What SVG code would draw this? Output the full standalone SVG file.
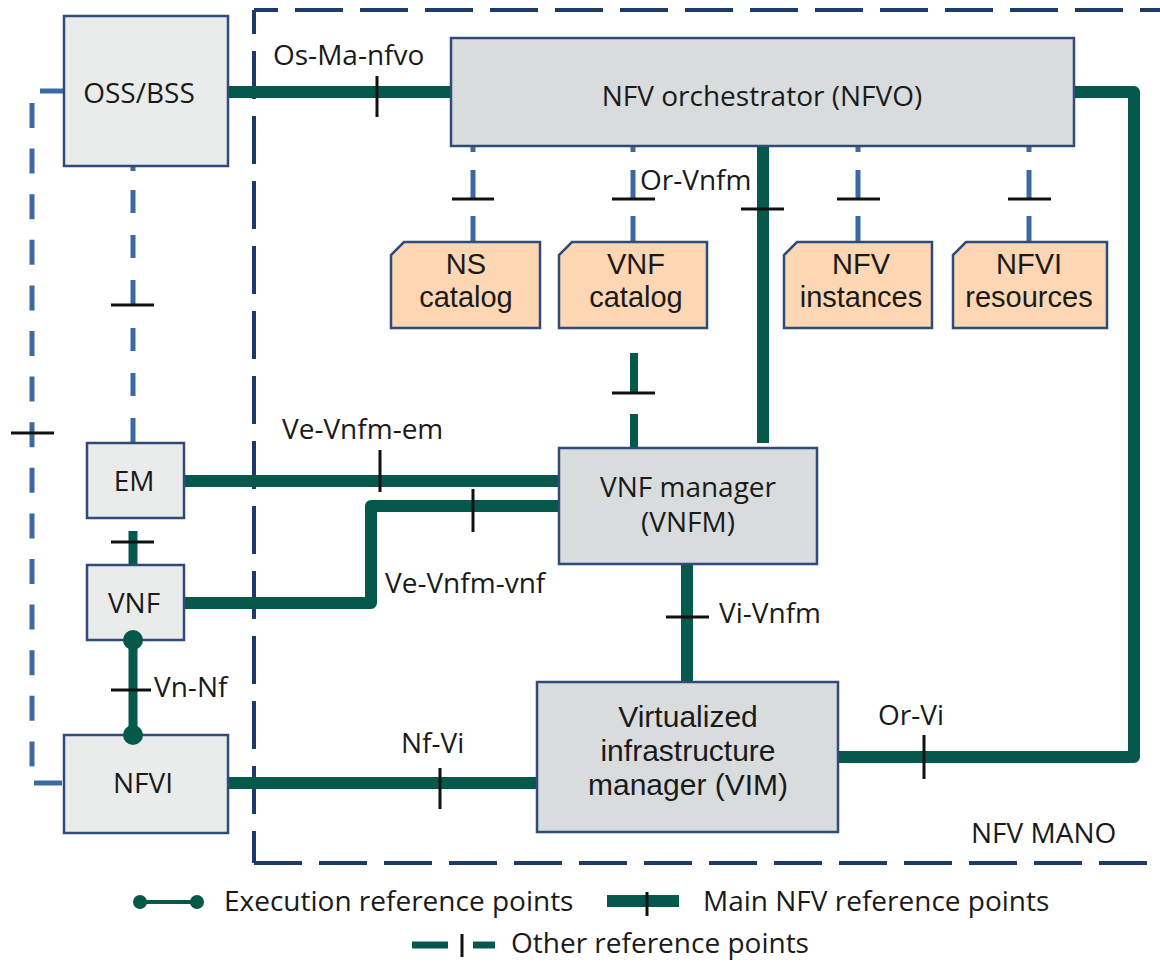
<svg xmlns="http://www.w3.org/2000/svg" width="1160" height="963" viewBox="0 0 1160 963">
<defs>
<style>
text { font-family: "Open Sans", "Liberation Sans", sans-serif; font-size: 28px; fill: #1a1a1a; }
.c { text-anchor: middle; }
.ct { font-family: "Liberation Sans", Arial, sans-serif; font-size: 29px; text-anchor: middle; }
.vt { font-family: "Liberation Sans", Arial, sans-serif; font-size: 30px; text-anchor: middle; }
.box { fill: #d8dcdd; stroke: #2f4b7a; stroke-width: 2.5; }
.lbox { fill: #e9eceb; stroke: #2f4b7a; stroke-width: 2.5; }
.cat { fill: #fdd6b3; stroke: #2f4b7a; stroke-width: 2.5; }
.main { stroke: #04594a; stroke-width: 12; fill: none; stroke-linejoin: round; }
.exec { stroke: #04594a; stroke-width: 9; fill: none; }
.dot { fill: #04594a; }
.other { stroke: #3d69a3; stroke-width: 5; fill: none; }
.og { stroke: #04594a; stroke-width: 8; fill: none; }
.tick { stroke: #111; stroke-width: 3; fill: none; }
.mano { stroke: #1d3b6a; stroke-width: 4; fill: none; stroke-dasharray: 48 17; }
</style>
</defs>
<rect width="1160" height="963" fill="#ffffff"/>

<g id="mano-boundary">
  <path class="mano" d="M254,10 H1160" stroke-dashoffset="24"/>
  <path class="mano" d="M254,10 V863" stroke-dashoffset="24"/>
  <path class="mano" d="M254,863 H1160"/>
  <text x="971" y="843">NFV MANO</text>
</g>

<g id="connectors">
  <!-- other (blue dashed) -->
  <path class="other" d="M64,91 H40"/>
  <path class="other" d="M32,103 V770" stroke-dasharray="25 20.6" stroke-width="4.5"/>
  <path class="other" d="M34,783 H62"/>
  <line class="tick" x1="11" y1="433" x2="54" y2="433"/>

  <path class="other" d="M133,166 V171 M133,190 V213 M133,235 V258 M133,280 V304 M133,328 V351 M133,373 V396 M133,418 V446"/>
  <line class="tick" x1="111" y1="305" x2="154" y2="305"/>

  <path class="other" d="M473,146 V152 M473,170 V198 M473,216 V242"/>
  <line class="tick" x1="452" y1="199" x2="494" y2="199"/>
  <path class="other" d="M633,146 V152 M633,170 V198 M633,216 V242"/>
  <line class="tick" x1="612" y1="199" x2="655" y2="199"/>
  <path class="other" d="M858,146 V152 M858,170 V198 M858,216 V242"/>
  <line class="tick" x1="837" y1="199" x2="880" y2="199"/>
  <path class="other" d="M1029,146 V152 M1029,170 V198 M1029,216 V242"/>
  <line class="tick" x1="1008" y1="199" x2="1051" y2="199"/>

  <!-- VNF catalog to VNFM (green dashed) -->
  <path class="og" d="M634,353 V392 M634,414 V448"/>
  <line class="tick" x1="612" y1="393" x2="655" y2="393"/>

  <!-- EM - VNF -->
  <path class="exec" d="M133,531 V566"/>
  <line class="tick" x1="111" y1="542" x2="154" y2="542"/>

  <!-- main reference points -->
  <path class="main" d="M228,92 H451"/>
  <line class="tick" x1="377" y1="76" x2="377" y2="117"/>
  <text x="273" y="65">Os-Ma-nfvo</text>

  <path class="main" d="M763,146 V443"/>
  <line class="tick" x1="741" y1="209" x2="784" y2="209"/>
  <text x="640" y="190">Or-Vnfm</text>

  <path class="main" d="M1074,92 H1134 V757 H838"/>
  <line class="tick" x1="924" y1="735" x2="924" y2="779"/>
  <text x="878" y="725">Or-Vi</text>

  <path class="main" d="M184,481 H559"/>
  <line class="tick" x1="380" y1="450" x2="380" y2="492"/>
  <text x="282" y="439">Ve-Vnfm-em</text>

  <path class="main" d="M184,603 H371 V506 H559"/>
  <line class="tick" x1="473" y1="489" x2="473" y2="532"/>
  <text x="385" y="593">Ve-Vnfm-vnf</text>

  <path class="main" d="M687,564 V682"/>
  <line class="tick" x1="666" y1="617" x2="709" y2="617"/>
  <text x="719" y="623">Vi-Vnfm</text>

  <path class="main" d="M228,783 H538"/>
  <line class="tick" x1="440" y1="768" x2="440" y2="809"/>
  <text x="401" y="753">Nf-Vi</text>

  <!-- execution reference point -->
  <path class="exec" d="M133,640 V735"/>
  <line class="tick" x1="111" y1="690" x2="151" y2="690"/>
  <text x="154" y="697">Vn-Nf</text>
</g>

<g id="oss-bss">
  <rect class="lbox" x="64" y="16" width="164" height="150"/>
  <text class="c" x="139" y="103">OSS/BSS</text>
</g>
<g id="nfvo">
  <rect class="box" x="451" y="38" width="623" height="108"/>
  <text class="c" x="762" y="106">NFV orchestrator (NFVO)</text>
</g>
<g id="ns-catalog">
  <path class="cat" d="M404,242 H540 V328 H391 V255 Z"/>
  <text class="ct" x="466" y="274">NS<tspan x="466" dy="33">catalog</tspan></text>
</g>
<g id="vnf-catalog">
  <path class="cat" d="M572,242 H707 V328 H559 V255 Z"/>
  <text class="ct" x="636" y="274">VNF<tspan x="636" dy="33">catalog</tspan></text>
</g>
<g id="nfv-instances">
  <path class="cat" d="M797,242 H932 V328 H784 V255 Z"/>
  <text class="ct" x="861" y="274">NFV<tspan x="861" dy="33">instances</tspan></text>
</g>
<g id="nfvi-resources">
  <path class="cat" d="M966,242 H1107 V328 H953 V255 Z"/>
  <text class="ct" x="1029" y="274">NFVI<tspan x="1029" dy="33">resources</tspan></text>
</g>
<g id="em">
  <rect class="lbox" x="87" y="443" width="97" height="75"/>
  <text class="c" x="134" y="491">EM</text>
</g>
<g id="vnf">
  <rect class="lbox" x="87" y="565" width="97" height="75"/>
  <text class="c" x="134" y="613">VNF</text>
</g>
<g id="nfvi">
  <rect class="lbox" x="64" y="735" width="164" height="98"/>
  <text class="c" x="143" y="793">NFVI</text>
</g>
<g id="vnfm">
  <rect class="box" x="559" y="448" width="258" height="116"/>
  <text class="c" x="688" y="497">VNF manager<tspan x="688" dy="35">(VNFM)</tspan></text>
</g>
<g id="vim">
  <rect class="box" x="537" y="682" width="301" height="150"/>
  <text class="vt" x="688" y="727">Virtualized<tspan x="688" dy="34">infrastructure</tspan><tspan x="688" dy="34">manager (VIM)</tspan></text>
</g>
<g id="vn-nf-dots">
  <circle class="dot" cx="133" cy="640" r="10"/>
  <circle class="dot" cx="133" cy="735" r="10"/>
</g>

<g id="legend">
  <line x1="140" y1="902" x2="197" y2="902" stroke="#04594a" stroke-width="4"/>
  <circle class="dot" cx="140" cy="902" r="7"/>
  <circle class="dot" cx="197" cy="902" r="7"/>
  <text x="224" y="911">Execution reference points</text>
  <line x1="607" y1="901" x2="679" y2="901" stroke="#04594a" stroke-width="12"/>
  <line class="tick" x1="647" y1="892" x2="647" y2="916"/>
  <text x="703" y="911">Main NFV reference points</text>
  <line x1="412" y1="945" x2="448" y2="945" stroke="#04594a" stroke-width="7"/>
  <line class="tick" x1="462" y1="934" x2="462" y2="957"/>
  <line x1="473" y1="945" x2="495" y2="945" stroke="#04594a" stroke-width="7"/>
  <text x="511" y="953">Other reference points</text>
</g>
</svg>
